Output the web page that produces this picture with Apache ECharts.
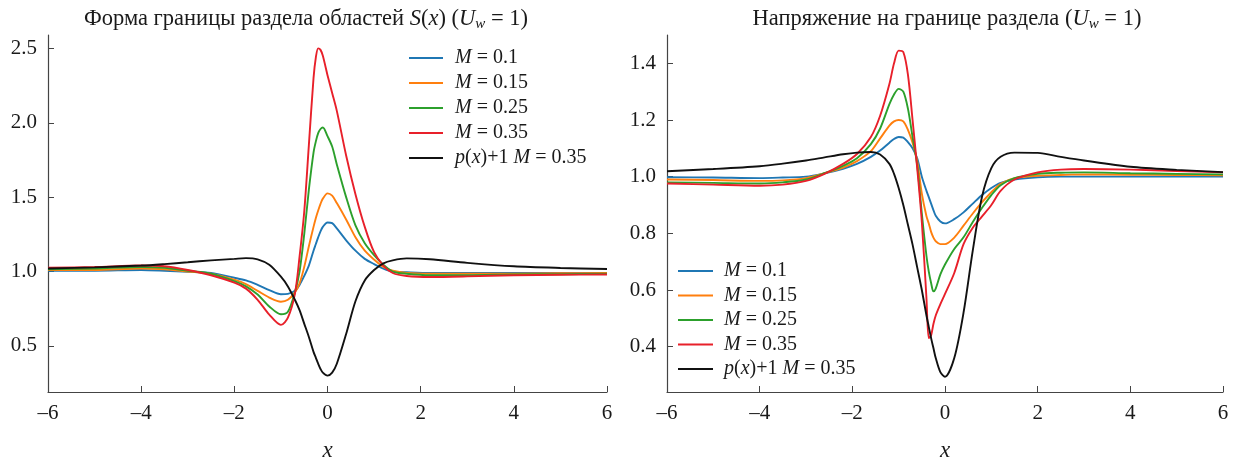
<!DOCTYPE html>
<html>
<head>
<meta charset="utf-8">
<script src="https://cdn.jsdelivr.net/npm/echarts@6/dist/echarts.min.js"></script>
<style>
  html, body { margin: 0; padding: 0; background: #fff; }
  #main { width: 1233px; height: 462px; }
</style>
</head>
<body>
<div id="main"></div>
<script>
// левый график: форма границы S(x)
const L_X = [-6, -5, -4, -3.5, -3, -2.5, -2, -1.75, -1.5, -1.25, -1, -0.85, -0.7, -0.6, -0.5, -0.4, -0.3, -0.25, -0.2, -0.15, -0.1, 0,
  0.1, 0.2, 0.4, 0.6, 0.8, 1, 1.2, 1.4, 1.7, 2.2, 3, 4, 5, 6];
const L_M010 = [1.005, 1.005, 1.01, 1.005, 0.998, 0.99, 0.958, 0.94, 0.91, 0.875, 0.847, 0.85, 0.87, 0.91, 0.97, 1.04, 1.14, 1.185, 1.23, 1.27, 1.3, 1.33,
  1.325, 1.29, 1.21, 1.14, 1.085, 1.05, 1.02, 1.0, 0.995, 0.99, 0.99, 0.99, 0.99, 0.99];
const L_M015 = [1.01, 1.01, 1.02, 1.015, 1.0, 0.985, 0.945, 0.915, 0.87, 0.825, 0.797, 0.81, 0.86, 0.92, 1.03, 1.17, 1.3, 1.36, 1.41, 1.455, 1.49, 1.525,
  1.51, 1.46, 1.35, 1.23, 1.14, 1.08, 1.03, 1.005, 0.99, 0.985, 0.985, 0.985, 0.988, 0.99];
const L_M025 = [1.015, 1.02, 1.03, 1.025, 1.005, 0.985, 0.935, 0.9, 0.845, 0.765, 0.713, 0.73, 0.86, 1.0, 1.25, 1.55, 1.8, 1.875, 1.93, 1.958, 1.968, 1.91,
  1.84, 1.72, 1.5, 1.31, 1.19, 1.11, 1.045, 1.0, 0.985, 0.975, 0.975, 0.98, 0.982, 0.985];
const L_M035 = [1.025, 1.03, 1.04, 1.035, 1.01, 0.975, 0.925, 0.885, 0.81, 0.71, 0.641, 0.69, 0.85, 1.1, 1.4, 1.85, 2.3, 2.44, 2.5, 2.49, 2.45, 2.32,
  2.2, 2.08, 1.78, 1.52, 1.3, 1.13, 1.04, 0.99, 0.97, 0.963, 0.967, 0.975, 0.978, 0.98];
const L_P = [1.02, 1.028, 1.04, 1.05, 1.062, 1.075, 1.085, 1.09, 1.082, 1.045, 0.965, 0.9, 0.81, 0.74, 0.65, 0.56, 0.46, 0.42, 0.38, 0.345, 0.32, 0.30,
  0.32, 0.38, 0.58, 0.8, 0.94, 1.01, 1.055, 1.075, 1.088, 1.082, 1.058, 1.035, 1.024, 1.017];

// правый график: напряжение на границе
const R_X = [-6, -5, -4, -3.5, -3, -2.6, -2.2, -1.9, -1.6, -1.4, -1.2, -1.1, -1, -0.9, -0.8, -0.7, -0.6, -0.5, -0.4, -0.35,
  -0.3, -0.25, -0.2, -0.1, 0, 0.2, 0.4, 0.6, 0.8, 1, 1.2, 1.5, 2, 2.5, 3, 4, 5, 6];
const R_M010 = [0.998, 0.997, 0.995, 0.997, 1.0, 1.012, 1.028, 1.045, 1.07, 1.092, 1.12, 1.133, 1.14, 1.138, 1.122, 1.1, 1.065, 1.0, 0.95, 0.928,
  0.905, 0.882, 0.862, 0.842, 0.835, 0.85, 0.874, 0.905, 0.935, 0.96, 0.978, 0.99, 0.998, 1.0, 1.0, 1.0, 1.0, 1.0];
const R_M015 = [0.99, 0.988, 0.985, 0.987, 0.995, 1.012, 1.032, 1.055, 1.09, 1.135, 1.18, 1.195, 1.2, 1.195, 1.165, 1.12, 1.055, 0.94, 0.86, 0.835,
  0.805, 0.785, 0.772, 0.762, 0.762, 0.785, 0.827, 0.87, 0.91, 0.945, 0.975, 0.995, 1.003, 1.006, 1.008, 1.007, 1.006, 1.005];
const R_M025 = [0.98, 0.978, 0.976, 0.98, 0.99, 1.012, 1.038, 1.065, 1.115, 1.17, 1.256, 1.29, 1.31, 1.3, 1.24, 1.14, 1.04, 0.87, 0.72, 0.665,
  0.625, 0.595, 0.605, 0.655, 0.69, 0.745, 0.786, 0.84, 0.89, 0.935, 0.97, 0.995, 1.01, 1.014, 1.015, 1.012, 1.01, 1.008];
const R_M035 = [0.976, 0.972, 0.968, 0.972, 0.985, 1.01, 1.045, 1.08, 1.14, 1.215, 1.327, 1.4, 1.445, 1.44, 1.36, 1.2, 1.03, 0.84, 0.57, 0.43,
  0.44, 0.48, 0.51, 0.55, 0.586, 0.66, 0.762, 0.82, 0.86, 0.9, 0.95, 0.99, 1.015, 1.025, 1.027, 1.025, 1.02, 1.015];
const R_P = [1.019, 1.027, 1.037, 1.046, 1.057, 1.068, 1.079, 1.085, 1.087, 1.078, 1.045, 1.01, 0.96, 0.9, 0.83, 0.76, 0.68, 0.6, 0.51, 0.47,
  0.43, 0.395, 0.36, 0.31, 0.294, 0.36, 0.52, 0.74, 0.93, 1.03, 1.07, 1.085, 1.084, 1.07, 1.057, 1.035, 1.024, 1.016];

const L_YTICKS = [0.5, 1.0, 1.5, 2.0, 2.5];
const R_YTICKS = [0.4, 0.6, 0.8, 1.0, 1.2, 1.4];

const NAMES = ['M = 0.1', 'M = 0.15', 'M = 0.25', 'M = 0.35', 'p(x)+1 M = 0.35'];
const COLORS = ['#1f77b4', '#ff7f0e', '#2ca02c', '#e8202a', '#111111'];

const FONT = '"Liberation Serif", "DejaVu Serif", serif';
const TXT = '#1a1a1a';

const legendRich = {
  i: { fontFamily: FONT, fontSize: 20, fontStyle: 'italic', color: TXT, lineHeight: 20 },
  n: { fontFamily: FONT, fontSize: 20, color: TXT, lineHeight: 20 }
};
function legendLabel(name) {
  if (name.startsWith('p(x)')) return '{i|p}{n|(}{i|x}{n|)+1 }{i|M}{n| = 0.35}';
  return '{i|M}{n|' + name.slice(1) + '}';
}

const titleRich = {
  n: { fontFamily: FONT, fontSize: 22.5, fontWeight: 'normal', color: TXT, lineHeight: 26 },
  i: { fontFamily: FONT, fontSize: 22.5, fontWeight: 'normal', fontStyle: 'italic', color: TXT, lineHeight: 26 },
  s: { fontFamily: FONT, fontSize: 15, fontWeight: 'normal', fontStyle: 'italic', color: TXT, lineHeight: 15, verticalAlign: 'bottom' }
};

function xAxis(gridIndex) {
  return {
    type: 'value', gridIndex: gridIndex, min: -6, max: 6, interval: 2,
    name: 'x', nameLocation: 'middle', nameGap: 47,
    nameTextStyle: { fontFamily: FONT, fontSize: 23, fontStyle: 'italic', color: TXT },
    axisLine: { onZero: false, lineStyle: { color: '#444', width: 1.2 } },
    axisTick: { inside: true, length: 6, lineStyle: { color: '#444' } },
    splitLine: { show: false },
    axisLabel: {
      margin: 11, fontFamily: FONT, fontSize: 21, color: TXT,
      formatter: v => v < 0 ? '\u2013' + Math.abs(v) : String(v)
    }
  };
}
function yAxis(gridIndex, min, max, ticks) {
  return {
    type: 'value', gridIndex: gridIndex, min: min, max: max,
    axisLine: { show: true, onZero: false, lineStyle: { color: '#444', width: 1.2 } },
    axisTick: { show: true, inside: true, length: 6, customValues: ticks, lineStyle: { color: '#444' } },
    splitLine: { show: false },
    axisLabel: {
      margin: 11, fontFamily: FONT, fontSize: 21, color: TXT, customValues: ticks,
      formatter: v => v.toFixed(1)
    }
  };
}

function lines(xs, ys, idx) {
  return ys.map((arr, k) => ({
    name: NAMES[k], type: 'line', xAxisIndex: idx, yAxisIndex: idx,
    data: xs.map((x, i) => [x, arr[i]]),
    showSymbol: false, smooth: 0.3,
    lineStyle: { width: 1.9, color: COLORS[k] }, itemStyle: { color: COLORS[k] },
    z: k === 4 ? 3 : 2
  }));
}

const chart = echarts.init(document.getElementById('main'));
chart.setOption({
  animation: false,
  backgroundColor: '#fff',
  title: [
    { left: 306, top: 6, padding: 0, textAlign: 'center',
      text: '{n|Форма границы раздела областей }{i|S}{n|(}{i|x}{n|) (}{i|U}{s|w}{n| = 1)}',
      textStyle: { fontWeight: 'normal', rich: titleRich } },
    { left: 947, top: 6, padding: 0, textAlign: 'center',
      text: '{n|Напряжение на границе раздела (}{i|U}{s|w}{n| = 1)}',
      textStyle: { fontWeight: 'normal', rich: titleRich } }
  ],
  legend: [
    { data: NAMES, orient: 'vertical', left: 409, top: 48, padding: 0, itemGap: 5,
      icon: 'rect', itemWidth: 34, itemHeight: 2, selectedMode: false,
      formatter: legendLabel, textStyle: { padding: [0, 0, 0, 7], rich: legendRich } },
    { data: NAMES, orient: 'vertical', left: 678, top: 261, padding: 0, itemGap: 4.5,
      icon: 'rect', itemWidth: 35, itemHeight: 2, selectedMode: false,
      formatter: legendLabel, textStyle: { padding: [0, 0, 0, 6], rich: legendRich } }
  ],
  grid: [
    { left: 48, right: 626, top: 35, bottom: 70, containLabel: false, outerBoundsMode: 'none' },
    { left: 667, right: 10, top: 35, bottom: 70, containLabel: false, outerBoundsMode: 'none' }
  ],
  xAxis: [xAxis(0), xAxis(1)],
  yAxis: [yAxis(0, 0.19, 2.59, L_YTICKS), yAxis(1, 0.24, 1.5, R_YTICKS)],
  series: lines(L_X, [L_M010, L_M015, L_M025, L_M035, L_P], 0)
    .concat(lines(R_X, [R_M010, R_M015, R_M025, R_M035, R_P], 1))
});
</script>
</body>
</html>
